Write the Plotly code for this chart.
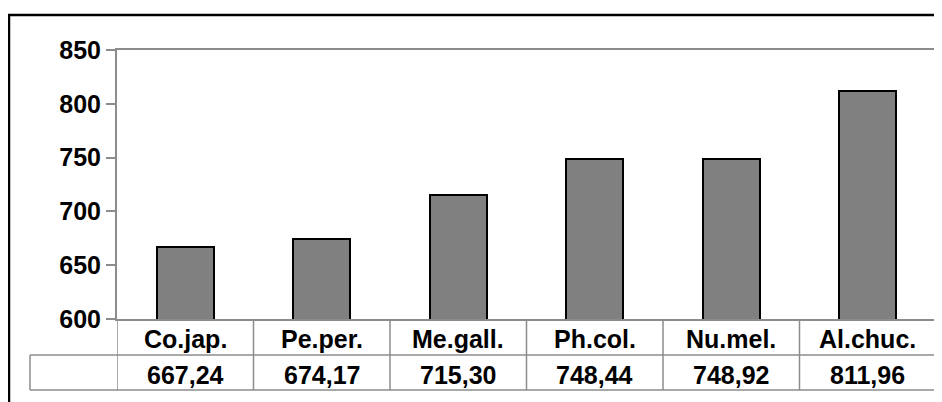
import plotly.graph_objects as go

categories = ["Co.jap.", "Pe.per.", "Me.gall.", "Ph.col.", "Nu.mel.", "Al.chuc."]
values = [667.24, 674.17, 715.30, 748.44, 748.92, 811.96]
y_ticks = [600, 650, 700, 750, 800, 850]

OFF = 8  # page body margin offset
W, H = 942, 402
# page-space coordinates of plot area
P_L, P_R, P_T, P_B = 117, 936, 50, 319
L, T = P_L - OFF, P_T - OFF
R = W - (P_R - OFF)
B = H - (P_B - OFF)
pw, ph = P_R - P_L, P_B - P_T

def py(Y):
    return (P_B - Y) / ph

def px(X):
    return (X - P_L) / pw

font = dict(family="Liberation Sans, Arial, sans-serif", size=25, color="black", weight="bold")

fig = go.Figure()
fig.add_trace(go.Bar(
    x=list(range(len(categories))), y=values, width=0.42,
    marker=dict(color="#808080", line=dict(color="black", width=2)),
    hoverinfo="skip",
))

shapes = []
gray = "#8c8c8c"
# outer border
shapes.append(dict(type="rect", xref="paper", yref="paper",
                   x0=px(9), x1=px(1100), y0=py(15), y1=py(500),
                   line=dict(color="black", width=2.5)))
# table lines
row1_bot = py(355)
row2_bot = py(390)
for i in range(len(categories) + 1):
    shapes.append(dict(type="line", xref="x", yref="paper", x0=i - 0.5, x1=i - 0.5,
                       y0=0, y1=row2_bot, line=dict(color=gray, width=1.5)))
for yy in (row1_bot, row2_bot):
    shapes.append(dict(type="line", xref="paper", yref="paper", x0=px(30), x1=1,
                       y0=yy, y1=yy, line=dict(color=gray, width=1.5)))
shapes.append(dict(type="line", xref="paper", yref="paper", x0=px(30), x1=px(30),
                   y0=row1_bot, y1=row2_bot, line=dict(color=gray, width=1.5)))

annotations = []
for i, (c, v) in enumerate(zip(categories, values)):
    annotations.append(dict(x=i, y=py(339), xref="x", yref="paper", text=c,
                            showarrow=False, font=font, xanchor="center", yanchor="middle"))
    annotations.append(dict(x=i, y=py(375), xref="x", yref="paper",
                            text=f"{v:.2f}".replace(".", ","),
                            showarrow=False, font=font, xanchor="center", yanchor="middle"))

fig.update_layout(
    width=W, height=H,
    margin=dict(l=L, r=R, t=T, b=B),
    paper_bgcolor="white", plot_bgcolor="white",
    showlegend=False,
    bargap=0,
    shapes=shapes,
    annotations=annotations,
    xaxis=dict(range=[-0.5, len(categories) - 0.5], showticklabels=False, ticks="",
               showgrid=False, zeroline=False, showline=True, mirror=True,
               linecolor=gray, linewidth=2, fixedrange=True),
    yaxis=dict(range=[600, 850], tickvals=y_ticks, ticks="outside", ticklen=9,
               tickcolor=gray, tickwidth=1.5, tickfont=font,
               showgrid=False, zeroline=False, showline=True, mirror=True,
               linecolor=gray, linewidth=2, fixedrange=True),
)

fig.write_html("out.html", config={"displayModeBar": False})
